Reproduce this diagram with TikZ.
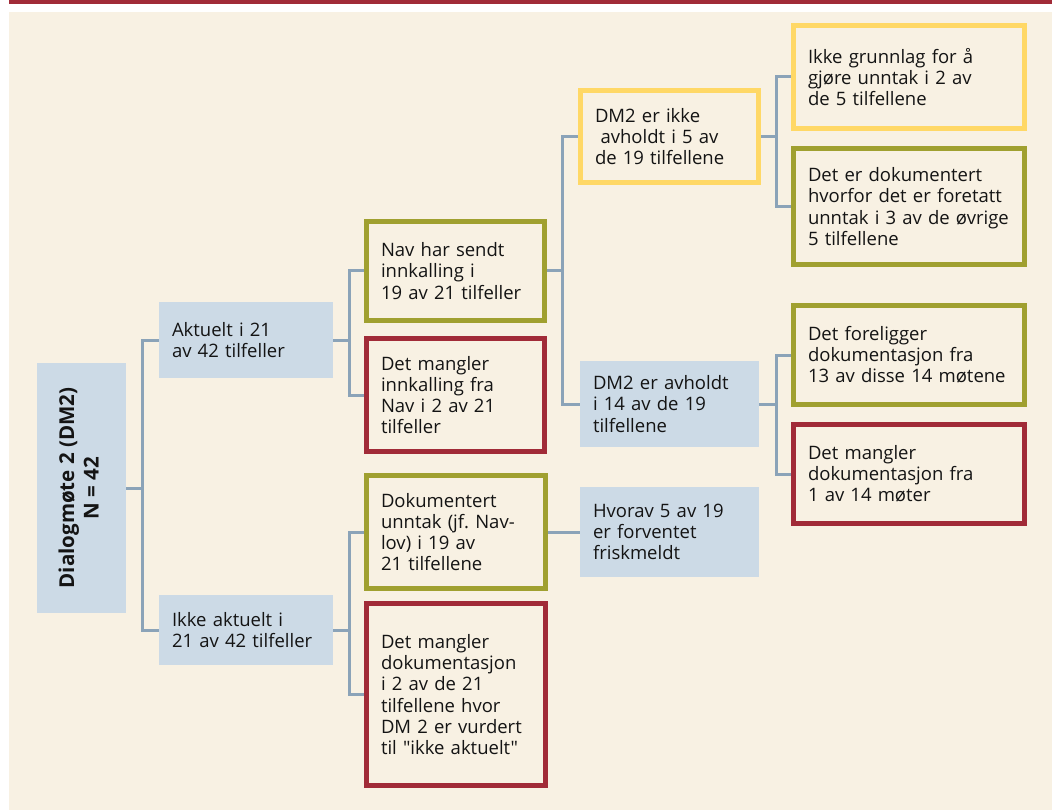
\documentclass[tikz,border=0pt]{standalone}
\usepackage{fontspec}
\setmainfont{Open Sans}
\newfontfamily\dmplain{Open Sans}
\usepackage{tikz}
\usetikzlibrary{positioning}
\usepackage{xcolor}
\definecolor{dmred}{RGB}{161,43,56}
\definecolor{dmolive}{RGB}{160,160,48}
\definecolor{dmyellow}{RGB}{255,216,102}
\definecolor{dmblue}{RGB}{204,218,230}
\definecolor{dmbeige}{RGB}{248,241,227}
\definecolor{dmline}{RGB}{139,163,184}
\definecolor{dmink}{RGB}{20,20,20}
\pgfkeys{tikz/dmtext/.style={font=\fontsize{18.5}{21.2}\selectfont, text=dmink, align=left, inner ysep=0pt}}
\pgfkeys{tikz/bluebox/.style={dmtext, fill=dmblue, inner xsep=13pt}}
\pgfkeys{tikz/framebox/.style={dmtext, draw=#1, fill=dmbeige, line width=5pt, inner xsep=14.5pt}}
\pgfkeys{tikz/dmlink/.style={draw=dmline, line width=3pt}}

\begin{document}
\begin{tikzpicture}[x=1pt,y=-1pt]

	\useasboundingbox (0,0) rectangle (1052,810);
	\fill[dmred] (9,0) rectangle (1052,4.5);
	\fill[dmbeige] (9,12) rectangle (1052,810);

	% level 0 and 1
	\node[bluebox, minimum width=89pt, minimum height=250pt, inner xsep=0pt] (root) at (81.5,488)
		{\rotatebox{90}{\fontsize{20.5}{24.5}\selectfont\bfseries\begin{tabular}{@{}c@{}}Dialogmøte 2 (DM2)\\N = 42\end{tabular}}};
	\node[bluebox, text width=148pt, minimum height=76pt] (aktuelt) at (246,340) {Aktuelt i 21\\av 42 tilfeller};
	\node[bluebox, text width=148pt, minimum height=70pt] (ikkeaktuelt) at (246,630) {Ikke aktuelt i\\21 av 42 tilfeller};

	% level 2
	\node[framebox=dmolive, text width=149pt, minimum height=99pt] (sendt) at (455.5,271) {Nav har sendt\\innkalling i\\19 av 21 tilfeller};
	\node[framebox=dmred, text width=149pt, minimum height=113pt, below=13pt of sendt] (mangler) {Det mangler\\innkalling fra\\Nav i 2 av 21\\tilfeller};
	\node[framebox=dmolive, text width=150pt, minimum height=113pt] (unntak) at (456,532) {Dokumentert\\unntak (jf.\ Nav-\\lov) i 19 av\\21 tilfellene};
	\node[framebox=dmred, text width=150pt, minimum height=182pt, below=10pt of unntak] (mangeldok) {Det mangler\\dokumentasjon\\i 2 av de 21\\tilfellene hvor\\DM 2 er vurdert\\til {\dmplain"ikke aktuelt"}};

	% level 3
	\node[framebox=dmyellow, text width=149pt, minimum height=92pt] (ikkeavholdt) at (669.5,136.5) {DM2 er ikke\\\hspace*{0.3em}avholdt i 5 av\\de 19 tilfellene};
	\node[bluebox, text width=153pt, minimum height=86pt] (avholdt) at (669.5,404) {DM2 er avholdt\\i 14 av de 19\\tilfellene};
	\node[bluebox, text width=153pt, minimum height=90pt] (friskmeldt) at (669.5,532) {Hvorav 5 av 19\\er forventet\\friskmeldt};

	% level 4
	\node[framebox=dmyellow, text width=202pt, minimum height=103pt] (grunnlag) at (909,77) {Ikke grunnlag for å\\gjøre unntak i 2 av\\de 5 tilfellene};
	\node[framebox=dmolive, text width=202pt, minimum height=116pt, below=15pt of grunnlag] (foretatt) {Det er dokumentert\\hvorfor det er foretatt\\unntak i 3 av de øvrige\\5 tilfellene};
	\node[framebox=dmolive, text width=202pt, minimum height=99pt] (foreligger) at (909,355) {Det foreligger\\dokumentasjon fra\\13 av disse 14 møtene};
	\node[framebox=dmred, text width=202pt, minimum height=99pt, below=15pt of foreligger] (manglerdok) {Det mangler\\dokumentasjon fra\\1 av 14 møter};

	% connectors
	\draw[dmlink] (root.east) -- ++(16,0) |- (aktuelt.west);
	\draw[dmlink] (root.east) -- ++(16,0) |- (ikkeaktuelt.west);
	\draw[dmlink] (aktuelt.east) -- ++(16,0) |- (sendt.west);
	\draw[dmlink] (aktuelt.east) -- ++(16,0) |- (mangler.west);
	\draw[dmlink] (ikkeaktuelt.east) -- ++(16,0) |- (unntak.west);
	\draw[dmlink] (ikkeaktuelt.east) -- ++(16,0) |- (mangeldok.west);
	\draw[dmlink] (sendt.east) -- ++(15,0) |- (ikkeavholdt.west);
	\draw[dmlink] (sendt.east) -- ++(15,0) |- (avholdt.west);
	\draw[dmlink] (unntak.east) -- (friskmeldt.west);
	\draw[dmlink] (ikkeavholdt.east) -- ++(15,0) |- (grunnlag.west);
	\draw[dmlink] (ikkeavholdt.east) -- ++(15,0) |- (foretatt.west);
	\draw[dmlink] (avholdt.east) -- ++(17,0) |- (foreligger.west);
	\draw[dmlink] (avholdt.east) -- ++(17,0) |- (manglerdok.west);

\end{tikzpicture}
\end{document}
